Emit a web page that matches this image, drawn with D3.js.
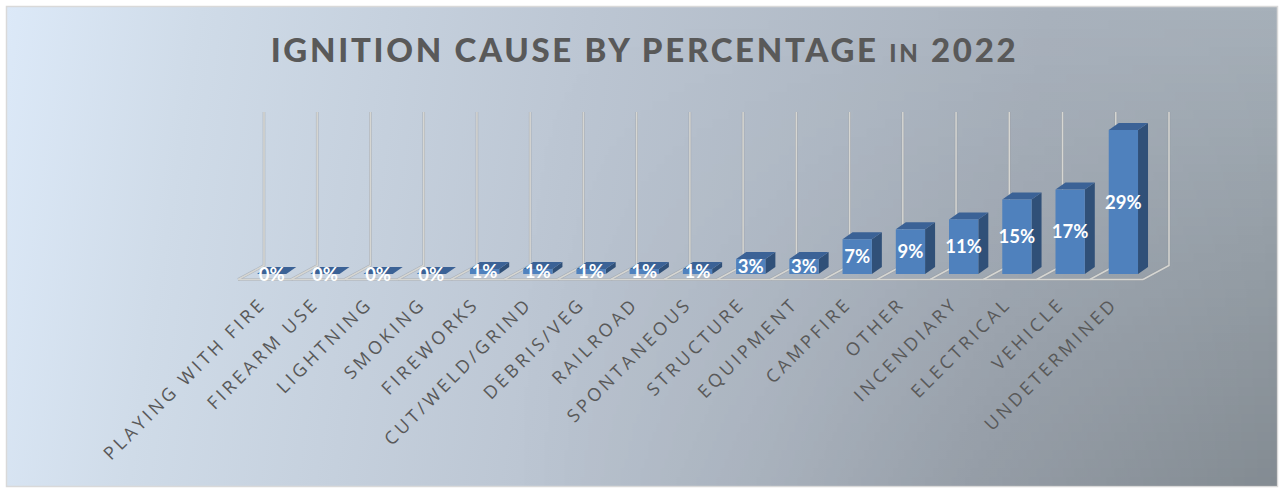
<!DOCTYPE html>
<html>
<head>
<meta charset="utf-8">
<script src="https://cdn.jsdelivr.net/npm/d3@7"></script>
<style>
html, body { margin: 0; padding: 0; background: #fff; }
svg { display: block; }
</style>
</head>
<body>
<div id="chart"></div>
<script>
const categories = ['PLAYING WITH FIRE', 'FIREARM USE', 'LIGHTNING', 'SMOKING', 'FIREWORKS', 'CUT/WELD/GRIND',
    'DEBRIS/VEG', 'RAILROAD', 'SPONTANEOUS', 'STRUCTURE', 'EQUIPMENT', 'CAMPFIRE', 'OTHER', 'INCENDIARY',
    'ELECTRICAL', 'VEHICLE', 'UNDETERMINED'];
const percentages = [0, 0, 0, 0, 1, 1, 1, 1, 1, 3, 3, 7, 9, 11, 15, 17, 29];

const width = 1281;
const height = 489;
const floorY = 279.5;
const depthX = 26;
const depthY = 14;
const barDepthX = 10;
const barDepthY = 7;

const svg = d3.select('#chart').append('svg')
    .attr('width', width)
    .attr('height', height);

const defs = svg.append('defs');

// background: mostly left to right, then darkened towards the lower right corner
const grad = defs.append('linearGradient')
    .attr('id', 'bg')
    .attr('gradientUnits', 'userSpaceOnUse')
    .attr('x1', 6).attr('y1', 6)
    .attr('x2', 1277).attr('y2', 200);
grad.append('stop').attr('offset', '0%').attr('stop-color', '#dce9f8');
grad.append('stop').attr('offset', '15%').attr('stop-color', '#cfdbe8');
grad.append('stop').attr('offset', '45%').attr('stop-color', '#bcc6d3');
grad.append('stop').attr('offset', '80%').attr('stop-color', '#a9b2bd');
grad.append('stop').attr('offset', '100%').attr('stop-color', '#a6b0b9');

const shade = defs.append('linearGradient')
    .attr('id', 'shade')
    .attr('x1', 0).attr('y1', 0)
    .attr('x2', 0).attr('y2', 1);
shade.append('stop').attr('offset', '0%').attr('stop-color', '#000').attr('stop-opacity', 0);
shade.append('stop').attr('offset', '100%').attr('stop-color', '#000').attr('stop-opacity', 0.21);

const fade = defs.append('linearGradient').attr('id', 'fade');
fade.append('stop').attr('offset', '40%').attr('stop-color', '#fff').attr('stop-opacity', 0);
fade.append('stop').attr('offset', '60%').attr('stop-color', '#fff').attr('stop-opacity', 0.25);
fade.append('stop').attr('offset', '100%').attr('stop-color', '#fff').attr('stop-opacity', 1);

defs.append('mask')
    .attr('id', 'shadeMask')
    .attr('maskUnits', 'userSpaceOnUse')
    .attr('x', 0).attr('y', 0)
    .attr('width', width).attr('height', height)
    .append('rect')
    .attr('x', 6).attr('y', 6)
    .attr('width', 1271).attr('height', 480)
    .attr('fill', 'url(#fade)');

svg.append('rect')
    .attr('x', 6.5).attr('y', 6.5)
    .attr('width', 1271).attr('height', 480)
    .attr('fill', 'url(#bg)')
    .attr('stroke', '#d9d9d9')
    .attr('stroke-width', 1.5);

svg.append('rect')
    .attr('x', 7).attr('y', 7)
    .attr('width', 1270).attr('height', 479)
    .attr('fill', 'url(#shade)')
    .attr('mask', 'url(#shadeMask)');

const xScale = d3.scaleBand()
    .domain(categories)
    .range([245, 1150])
    .paddingInner(0.45)
    .paddingOuter(0.225);

const yScale = d3.scaleLinear()
    .domain([0, 29])
    .range([274, 130]);

// floor and wall lines, a soft dark line under a lighter one
const gridXs = d3.range(categories.length + 1).map(i => 238 + i * (905 / categories.length));
const gridStyles = [{ color: '#8f939a', w: 2.6, op: 0.5 }, { color: '#d6d6d2', w: 1.5, op: 1 }];

gridStyles.forEach(s => {
    const grid = svg.append('g')
        .attr('fill', 'none')
        .attr('stroke', s.color)
        .attr('stroke-opacity', s.op)
        .attr('stroke-width', s.w);

    grid.selectAll('path')
        .data(gridXs)
        .enter()
        .append('path')
        .attr('d', d => `M${d},${floorY}L${d + depthX},${floorY - depthY}V112`);

    grid.append('line')
        .attr('x1', 238).attr('x2', 1143)
        .attr('y1', floorY).attr('y2', floorY);
});

// bars, side and top faces first
const bars = svg.append('g').selectAll('g')
    .data(percentages)
    .enter()
    .append('g')
    .attr('transform', (d, i) => `translate(${xScale(categories[i])}, 0)`);

const bw = xScale.bandwidth();

bars.append('path')
    .attr('fill', '#305078')
    .attr('d', d => `M${bw},${yScale(d)}l${barDepthX},${-barDepthY}V${yScale(0) - barDepthY}l${-barDepthX},${barDepthY}Z`);

bars.append('path')
    .attr('fill', '#3b6296')
    .attr('d', d => `M0,${yScale(d)}l${barDepthX},${-barDepthY}h${bw}l${-barDepthX},${barDepthY}Z`);

bars.append('rect')
    .attr('width', bw)
    .attr('y', d => yScale(d))
    .attr('height', d => yScale(0) - yScale(d))
    .attr('fill', '#4f81bd');

bars.append('text')
    .attr('x', bw / 2)
    .attr('y', d => (yScale(d) + yScale(0)) / 2 + 6.5)
    .attr('text-anchor', 'middle')
    .attr('font-family', 'Lato, sans-serif')
    .attr('font-weight', 700)
    .attr('font-size', 18.5)
    .attr('fill', '#fff')
    .text(d => d + '%');

// category labels
svg.append('g').selectAll('text')
    .data(categories)
    .enter()
    .append('text')
    .attr('transform', d => `translate(${xScale(d) + bw / 2 - 4.5}, 305) rotate(-45)`)
    .attr('text-anchor', 'end')
    .attr('font-family', '"Open Sans", sans-serif')
    .attr('font-size', 18)
    .attr('letter-spacing', 3.4)
    .attr('fill', '#595959')
    .text(d => d);

// title, "IN" is set smaller
const title = svg.append('text')
    .attr('x', 644.5)
    .attr('y', 62)
    .attr('text-anchor', 'middle')
    .attr('font-family', 'Lato, sans-serif')
    .attr('font-weight', 900)
    .attr('font-size', 33)
    .attr('letter-spacing', 2.7)
    .attr('fill', '#595959');
title.append('tspan').text('IGNITION CAUSE BY PERCENTAGE ');
title.append('tspan').attr('font-size', 24).text('IN');
title.append('tspan').text(' 2022');
</script>
</body>
</html>
